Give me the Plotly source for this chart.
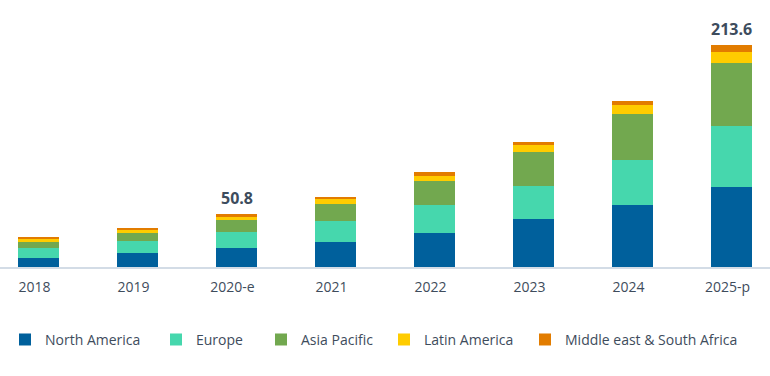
import plotly.graph_objects as go

categories = ["2018", "2019", "2020-e", "2021", "2022", "2023", "2024", "2025-p"]
north_america = [9.0, 13.8, 18.3, 24.4, 32.7, 46.2, 59.7, 77.3]
europe = [9.6, 11.0, 15.2, 20.2, 27.0, 31.8, 43.3, 58.1]
asia_pacific = [5.8, 8.3, 12.6, 16.1, 23.4, 32.7, 44.6, 60.9]
latin_america = [2.9, 2.6, 1.6, 4.8, 4.8, 7.0, 8.1, 10.6]
middle_east_africa = [1.9, 2.2, 3.1, 1.6, 3.3, 2.6, 4.4, 6.7]
total_labels = ["", "", "50.8", "", "", "", "", "213.6"]

series_names = ["North America", "Europe", "Asia Pacific", "Latin America",
                "Middle east & South Africa"]
series_values = [north_america, europe, asia_pacific, latin_america, middle_east_africa]
series_colors = ["#00609c", "#46d7ad", "#72a84f", "#ffcc00", "#e27c00"]
# legend entry text left edge (px) in the reference layout
legend_text_px = [45, 196, 301, 424, 565]

fig = go.Figure()
legend_layout = {}
for i, (name, vals, color) in enumerate(zip(series_names, series_values, series_colors)):
    lname = "legend" if i == 0 else "legend%d" % (i + 1)
    fig.add_trace(go.Bar(
        x=categories, y=vals, name=name, marker=dict(color=color, line=dict(width=0)),
        width=0.41, hoverinfo="skip", legend=lname,
    ))
    legend_layout[lname] = dict(
        orientation="h", x=(legend_text_px[i] - 40) / 770, xanchor="left",
        y=-0.273, yanchor="middle", bgcolor="rgba(0,0,0,0)",
        font=dict(family="Open Sans", size=14, color="#3e4c5c"),
        itemclick=False, itemdoubleclick=False,
    )

totals = [sum(v) for v in zip(*series_values)]
for cat, tot, lab in zip(categories, totals, total_labels):
    if lab:
        fig.add_annotation(
            x=cat, y=tot, text="<b>%s</b>" % lab, showarrow=False,
            yanchor="bottom", yshift=3,
            font=dict(family="Open Sans", size=16, color="#3d4c5d"),
        )

fig.update_layout(
    barmode="stack",
    width=770, height=376,
    margin=dict(l=0, r=0, t=0, b=109),
    paper_bgcolor="white", plot_bgcolor="white",
    font=dict(family="Open Sans", size=14, color="#3e4c5c"),
    xaxis=dict(
        type="category", range=[-0.389, 7.389], showgrid=False,
        showline=True, linecolor="#d3dce6", linewidth=2,
        ticks="", tickfont=dict(family="Open Sans", size=14, color="#3e4c5c"),
        ticklabelstandoff=6, ticklabelshift=-4, automargin=False,
    ),
    yaxis=dict(range=[0, 257], visible=False, showgrid=False),
    showlegend=True,
    hovermode=False,
    **legend_layout,
)

fig.write_html("out.html", config={"displayModeBar": False},
               post_script="document.body.style.margin='0';")
